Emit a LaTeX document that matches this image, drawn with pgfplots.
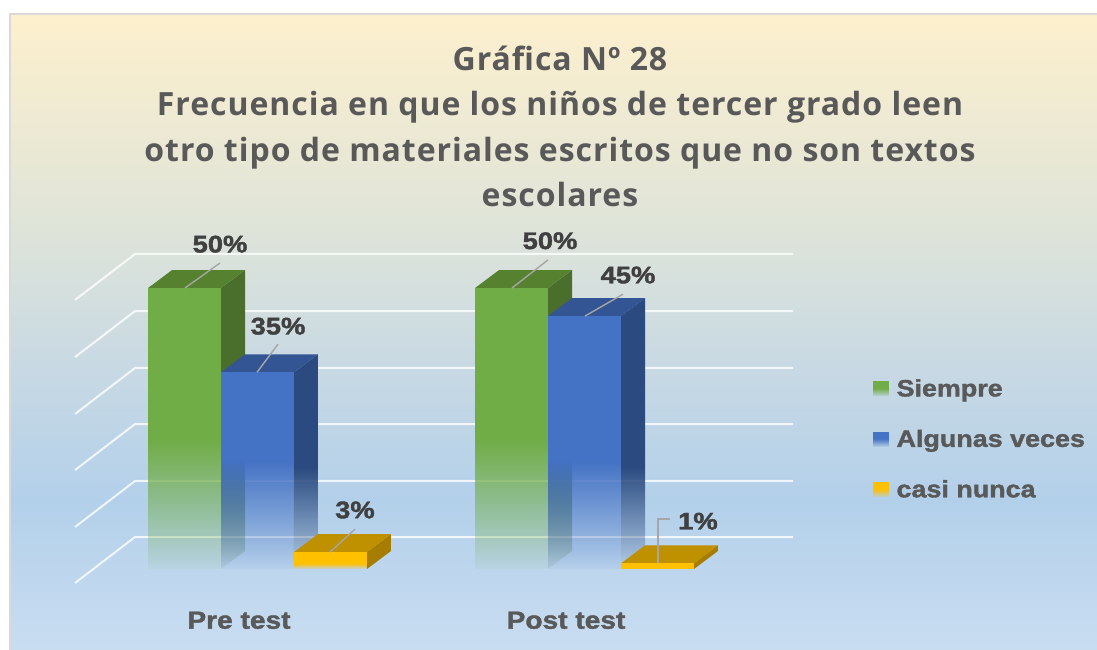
\documentclass[border=0pt]{standalone}
\usepackage{fontspec}
\usepackage{pgfplots}
\pgfplotsset{compat=1.18}
\usetikzlibrary{fadings}
\setmainfont{Liberation Sans}
\newfontfamily\titlefont[LetterSpace=3]{Open Sans}
\newfontfamily\labfont[FakeStretch=1.14,BoldFeatures={FakeBold=1.6}]{Liberation Sans}
\definecolor{txt}{HTML}{595959}
\definecolor{dl}{HTML}{404040}
\definecolor{gfront}{HTML}{70AD47}\definecolor{gtop}{HTML}{56822F}\definecolor{gside}{HTML}{4A6E2B}
\definecolor{bfront}{HTML}{4472C4}\definecolor{btop}{HTML}{335593}\definecolor{bside}{HTML}{2A4A80}
\definecolor{yfront}{HTML}{FFC000}\definecolor{ytop}{HTML}{BF9000}\definecolor{yside}{HTML}{A67D00}
\definecolor{bg1}{HTML}{FDF0CD}\definecolor{bg2}{HTML}{DFE4D9}\definecolor{bg3}{HTML}{C6D8E4}\definecolor{bg4}{HTML}{B3D0EA}\definecolor{bg5}{HTML}{C9DDF1}
\pgfdeclareverticalshading{bgshade}{100bp}{color(0bp)=(bg5); color(25bp)=(bg5); color(36.8bp)=(bg4); color(46.2bp)=(bg3); color(58.4bp)=(bg2); color(75bp)=(bg1); color(100bp)=(bg1)}
\newcommand\mkfade[2]{%
 \pgfdeclareverticalshading{#1shade}{100bp}{color(0bp)=(pgftransparent!95); color(25bp)=(pgftransparent!95); color(#2bp)=(pgftransparent!0); color(75bp)=(pgftransparent!0); color(100bp)=(pgftransparent!0)}%
 \pgfdeclarefading{#1}{\pgfuseshading{#1shade}}}
\mkfade{fgfront}{48}
\mkfade{fgside}{42.4}
\mkfade{fbprefront}{52.7}
\mkfade{fbpreside}{49}
\mkfade{fbpostfront}{46.5}
\mkfade{fbpostside}{44.2}
\mkfade{fyfront}{42}
\mkfade{flegend}{52}
\newlength\px \setlength\px{0.75pt}
\begin{document}
\begin{tikzpicture}[x=\px,y=\px]
\path[use as bounding box] (0,0) rectangle (1097,650);
\fill[white] (0,0) rectangle (1097,650);
\shade[shading=bgshade] (10,0) rectangle (1097,636);
\draw[draw=black!15,line width=1.2\px] (10,0) -- (10,636) -- (1097,636);
\begin{axis}[
  at={(56.25pt,50.25pt)},anchor=south west,
  scale only axis,width=718\px,height=329\px,
  xmin=-0.5581,xmax=1.6376,ymin=-2.49,ymax=56.05,
  axis line style={draw=none},
  clip=false,
  xtick={0,1},xticklabels={Pre test,Post test},
  ytick=\empty,
  major tick length=0pt,
  xticklabel style={font=\labfont\bfseries\fontsize{18.5}{20}\selectfont,text=txt,xshift=-18.5\px,yshift=-24\px},
  title style={at={(axis description cs:0.6755,1.105)},anchor=south,align=center,font=\titlefont\bfseries\fontsize{24}{34}\selectfont,text=txt},
  title={Gráfica Nº 28\\Frecuencia en que los niños de tercer grado leen\\otro tipo de materiales escritos que no son textos\\escolares},
  legend style={at={(axis description cs:1.111,0.628)},anchor=north west,draw=none,fill=none,
    font=\labfont\bfseries\fontsize{17.7}{20}\selectfont,text=txt,
    row sep=26\px,inner sep=0pt},
  legend cell align=left,
  every axis plot/.append style={forget plot},
]
\addplot[white,opacity=.8,line width=2\px] coordinates {(-0.5581,-2.49) (-0.3746,5.69) (1.6376,5.69)};
\addplot[white,opacity=.8,line width=2\px] coordinates {(-0.5581,7.47) (-0.3746,15.66) (1.6376,15.66)};
\addplot[white,opacity=.8,line width=2\px] coordinates {(-0.5581,17.6) (-0.3746,25.8) (1.6376,25.8)};
\addplot[white,opacity=.8,line width=2\px] coordinates {(-0.5581,27.58) (-0.3746,35.77) (1.6376,35.77)};
\addplot[white,opacity=.8,line width=2\px] coordinates {(-0.5581,37.7) (-0.3746,45.9) (1.6376,45.9)};
\addplot[white,opacity=.8,line width=2\px] coordinates {(-0.5581,47.86) (-0.3746,56.05) (1.6376,56.05)};
% Siempre
\addplot[draw=none,fill=gside,path fading=fgside] coordinates {(-0.1116,50) (-0.0382,53.2) (-0.0382,3.2) (-0.1116,0)};
\addplot[draw=none,fill=gtop] coordinates {(-0.3346,50) (-0.2612,53.2) (-0.0382,53.2) (-0.1116,50)};
\addplot[ybar,bar width=0.223,bar shift=-0.223,draw=none,fill=gfront,path fading=fgfront] coordinates {(0,50)};
\addplot[draw=none,fill=gside,path fading=fgside] coordinates {(0.8884,50) (0.9618,53.2) (0.9618,3.2) (0.8884,0)};
\addplot[draw=none,fill=gtop] coordinates {(0.6654,50) (0.7388,53.2) (0.9618,53.2) (0.8884,50)};
\addplot[ybar,bar width=0.223,bar shift=-0.223,draw=none,fill=gfront,path fading=fgfront] coordinates {(1,50)};
% Algunas veces
\addplot[draw=none,fill=bside,path fading=fbpreside] coordinates {(0.1116,35) (0.1850,38.2) (0.1850,3.2) (0.1116,0)};
\addplot[draw=none,fill=btop] coordinates {(-0.1116,35) (-0.0382,38.2) (0.1850,38.2) (0.1116,35)};
\addplot[ybar,bar width=0.223,bar shift=0,draw=none,fill=bfront,path fading=fbprefront] coordinates {(0,35)};
\addplot[draw=none,fill=bside,path fading=fbpostside] coordinates {(1.1116,45) (1.1850,48.2) (1.1850,3.2) (1.1116,0)};
\addplot[draw=none,fill=btop] coordinates {(0.8884,45) (0.9618,48.2) (1.1850,48.2) (1.1116,45)};
\addplot[ybar,bar width=0.223,bar shift=0,draw=none,fill=bfront,path fading=fbpostfront] coordinates {(1,45)};
% casi nunca
\addplot[draw=none,fill=yside] coordinates {(0.3346,3) (0.4080,6.2) (0.4080,3.2) (0.3346,0)};
\addplot[draw=none,fill=ytop] coordinates {(0.1116,3) (0.1850,6.2) (0.4080,6.2) (0.3346,3)};
\addplot[ybar,bar width=0.223,bar shift=0.223,draw=none,fill=yfront,path fading=fyfront] coordinates {(0,3)};
\addplot[draw=none,fill=yside] coordinates {(1.3346,1) (1.4080,4.2) (1.4080,3.2) (1.3346,0)};
\addplot[draw=none,fill=ytop] coordinates {(1.1116,1) (1.1850,4.2) (1.4080,4.2) (1.3346,1)};
\addplot[ybar,bar width=0.223,bar shift=0.223,draw=none,fill=yfront] coordinates {(1,1)};
% leader lines
\addplot[black!35,line width=1.4\px] coordinates {(-0.2217,50) (-0.1147,54.45)};
\addplot[black!35,line width=1.4\px] coordinates {(-0.0015,35) (0.0627,40.0)};
\addplot[black!35,line width=1.4\px] coordinates {(0.2217,3) (0.2982,7.1)};
\addplot[black!35,line width=1.4\px] coordinates {(0.7783,50) (0.8884,55)};
\addplot[black!35,line width=1.4\px] coordinates {(1.0015,45) (1.1177,48.9)};
\addplot[black!35,line width=1.4\px] coordinates {(1.2248,1.07) (1.2248,8.9) (1.2615,8.9)};
\begin{scope}[every node/.style={font=\labfont\bfseries\fontsize{18}{20}\selectfont,text=dl,inner sep=0pt}]
\node at (axis cs:-0.1147,57.8) {50\%};
\node at (axis cs:0.0627,43.2) {35\%};
\node at (axis cs:0.298,10.5) {3\%};
\node at (axis cs:0.8945,58.4) {50\%};
\node at (axis cs:1.133,52.3) {45\%};
\node at (axis cs:1.347,8.5) {1\%};
\end{scope}
\pgfplotsset{legend image code/.code={\fill[draw=none,#1] (0pt,-5.6pt) rectangle (12pt,5.6pt); \path[draw=none] (0pt,0pt) -- (15.7pt,0pt);}}
\addlegendimage{fill=gfront,path fading=flegend}
\addlegendentry{Siempre}
\addlegendimage{fill=bfront,path fading=flegend}
\addlegendentry{Algunas veces}
\addlegendimage{fill=yfront,path fading=flegend}
\addlegendentry{casi nunca}
\end{axis}
\end{tikzpicture}
\end{document}
